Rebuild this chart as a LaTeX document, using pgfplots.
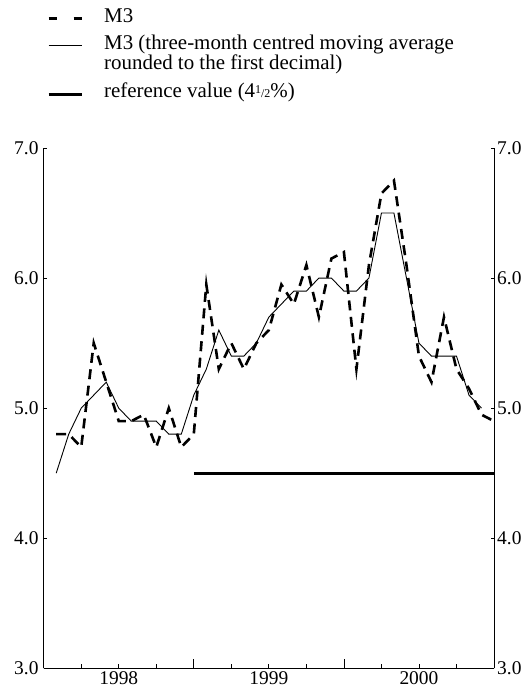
\documentclass[border=0pt]{standalone}
\usepackage{pgfplots}
\pgfplotsset{compat=1.18}
\usepackage{pgfplotstable}
\usepackage{fontspec}
\setmainfont{Liberation Serif}

\pgfplotstableread{
m v
1 4.8
2 4.8
3 4.7
4 5.5
5 5.2
6 4.9
7 4.9
8 4.95
9 4.7
10 5.0
11 4.7
12 4.8
13 5.95
14 5.3
15 5.5
16 5.3
17 5.5
18 5.6
19 5.95
20 5.8
21 6.1
22 5.7
23 6.15
24 6.2
25 5.3
26 6.1
27 6.65
28 6.75
29 6.1
30 5.4
31 5.2
32 5.7
33 5.3
34 5.15
35 4.95
36 4.9
}\mthree

\pgfplotstableread{
m v
1 4.5
2 4.8
3 5.0
4 5.1
5 5.2
6 5.0
7 4.9
8 4.9
9 4.9
10 4.8
11 4.8
12 5.1
13 5.3
14 5.6
15 5.4
16 5.4
17 5.5
18 5.7
19 5.8
20 5.9
21 5.9
22 6.0
23 6.0
24 5.9
25 5.9
26 6.0
27 6.5
28 6.5
29 6.0
30 5.5
31 5.4
32 5.4
33 5.4
34 5.1
35 5.0
}\mavg

\pgfplotstableread{
m v
12 4.5
36 4.5
}\refval

\begin{document}
\begin{tikzpicture}[x=1bp,y=1bp]
\useasboundingbox (0,0) rectangle (531,689);
\pgfplotsset{
  commonaxis/.style={
    at={(43.7bp,20.7bp)}, anchor=south west,
    scale only axis, width=450.3bp, height=520.3bp,
    xmin=0, xmax=36, ymin=3, ymax=7,
    font=\fontsize{19.5}{21}\selectfont,
    /pgf/number format/assume math mode=true,
  }
}
% main axis with data, x ticks, legend
\begin{axis}[commonaxis,
  axis x line*=bottom, axis y line*=box,
  axis line style={-, line width=0.8bp},
  ytick=\empty,
  xtick={0,12,24,36}, xticklabels={},
  minor xtick={3,6,9,15,18,21,27,30,33},
  extra x ticks={6,18,30},
  extra x tick labels={1998,1999,2000},
  extra x tick style={major tick length=0pt, tick style={draw=none}},
  xticklabel style={inner sep=0pt, yshift=-3bp},
  tick align=inside,
  major tick length=9bp, minor tick length=4.3bp,
  tick style={line width=0.8bp, black},
  legend style={at={(0,1)}, anchor=north west, xshift=3.3bp, yshift=140bp,
    draw=none, fill=none, inner sep=0pt,
    font=\fontsize{21}{20}\selectfont,
    nodes={inner sep=0pt, anchor=base west},
    column sep=21bp, row sep=11bp},
  legend cell align=left,
  legend image code/.code={\draw[#1] (0bp,0.35em) -- (33bp,0.35em);},
]
\addplot[black, line width=2.6bp, dash pattern=on 10bp off 6.5bp,
  legend image post style={dash pattern=on 8bp off 17bp}] table[x=m,y=v] {\mthree};
\addlegendentry{M3}
\addplot[black, line width=0.9bp] table[x=m,y=v] {\mavg};
\addlegendentry{\begin{tabular}[t]{@{}l@{}}M3 (three-month centred moving average\\rounded to the first decimal)\end{tabular}}
\addplot[black, line width=3bp] table[x=m,y=v] {\refval};
\addlegendentry{\rule{0pt}{36bp}reference value (4{\fontsize{12}{12}\selectfont\raisebox{0.35em}{1}/2}\%)}
\end{axis}
% left y tick labels
\begin{axis}[commonaxis,
  axis x line=none, axis y line*=box,
  axis line style={draw=none},
  ytick={3,4,5,6,7},
  yticklabel pos=left,
  yticklabel style={/pgf/number format/.cd, fixed, fixed zerofill, precision=1, /tikz/.cd, inner sep=0pt, xshift=-5bp},
  tick align=inside, major tick length=3bp,
  tick style={line width=0.8bp, black},
]
\end{axis}
% right y tick labels
\begin{axis}[commonaxis,
  axis x line=none, axis y line*=right,
  axis line style={draw=none},
  ytick={3,4,5,6,7},
  yticklabel pos=right,
  yticklabel style={/pgf/number format/.cd, fixed, fixed zerofill, precision=1, /tikz/.cd, inner sep=0pt, xshift=3bp},
  tick align=inside, major tick length=3bp,
  tick style={line width=0.8bp, black},
]
\end{axis}
\end{tikzpicture}
\end{document}
